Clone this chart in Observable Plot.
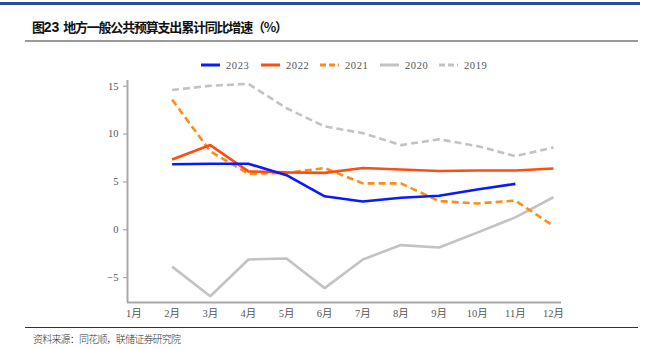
<!DOCTYPE html>
<html>
<head>
<meta charset="utf-8">
<script src="https://cdn.jsdelivr.net/npm/d3@7"></script>
<script src="https://cdn.jsdelivr.net/npm/@observablehq/plot@0.6"></script>
<style>
  html, body { margin: 0; padding: 0; background: #fff; }
  #wrap { position: relative; width: 652px; height: 350px; overflow: hidden; }
  .abs { position: absolute; }
  #topbar { top: 2px; left: 0; width: 640px; height: 3px; background: #2b4c9b; }
  #title { top: 17px; left: 32px; font-family: "Noto Sans CJK SC", sans-serif; font-weight: 700; font-size: 13px; letter-spacing: -1.2px; color: #111; white-space: nowrap; }
  #title .num { font-family: "Liberation Sans", Arial, sans-serif; font-weight: 700; font-size: 14px; letter-spacing: 0; margin-right: 2px; }
  #rule1 { top: 40px; left: 25px; width: 613px; height: 2px; background: #9a9a9a; }
  #legend { top: 58px; left: 0; width: 652px; height: 14px; }
  #chart { top: 72px; left: 0; }
  #rule2 { top: 327px; left: 25px; width: 613px; height: 1px; background: #333; }
  #source { top: 331px; left: 33px; font-family: "Noto Sans CJK SC", sans-serif; font-weight: 300; font-size: 10px; letter-spacing: -0.8px; color: #333; white-space: nowrap; }
  .leg { position: absolute; top: 0; height: 14px; display: flex; align-items: center; font-family: "Liberation Serif", "Times New Roman", serif; font-size: 10.5px; color: #555; letter-spacing: 0.6px; }
  .leg svg { margin-right: 6px; }
</style>
</head>
<body>
<div id="wrap">
  <div id="topbar" class="abs"></div>
  <div id="title" class="abs">图<span class="num">23</span> 地方一般公共预算支出累计同比增速（%）</div>
  <div id="rule1" class="abs"></div>
  <div id="legend" class="abs"></div>
  <div id="chart" class="abs"></div>
  <div id="rule2" class="abs"></div>
  <div id="source" class="abs">资料来源：同花顺，联储证券研究院</div>
</div>
<script>
// ---- data ----
const monthTicks = [1,2,3,4,5,6,7,8,9,10,11,12];
const months = [2,3,4,5,6,7,8,9,10,11,12];
const v2023 = [6.85, 6.9, 6.9, 5.7, 3.5, 2.95, 3.35, 3.55, 4.2, 4.8];
const v2022 = [7.35, 8.85, 6.1, 6.0, 5.95, 6.45, 6.3, 6.15, 6.2, 6.2, 6.4];
const v2021 = [13.6, 8.2, 5.85, 5.95, 6.45, 4.85, 4.85, 3.0, 2.75, 3.05, 0.4];
const v2020 = [-3.85, -6.95, -3.1, -3.0, -6.1, -3.1, -1.6, -1.85, -0.3, 1.3, 3.4];
const v2019 = [14.6, 15.05, 15.25, 12.7, 10.8, 10.1, 8.85, 9.45, 8.75, 7.7, 8.6];
const yTicks = [-5, 0, 5, 10, 15];

const series = [
  {name: "2023", values: v2023, color: "#0a1aff", dash: null},
  {name: "2022", values: v2022, color: "#ff4d0f", dash: null},
  {name: "2021", values: v2021, color: "#ff8c1a", dash: "7,4"},
  {name: "2020", values: v2020, color: "#c3c3c3", dash: null},
  {name: "2019", values: v2019, color: "#c3c3c3", dash: "7,4"}
];

const xDomain = [0.83, 12.21];
const yDomain = [-7.6, 15.6];

const rows = s => s.values.map((v, i) => ({month: months[i], value: v}));
const drawOrder = [...series].reverse();

const labelFont = '"Liberation Serif", "Noto Sans CJK SC", serif';

const chart = Plot.plot({
  width: 652,
  height: 250,
  marginLeft: 127,
  marginRight: 91,
  marginTop: 8,
  marginBottom: 20,
  style: {fontFamily: labelFont, fontSize: "10.5px", color: "#555", background: "transparent"},
  x: {type: "linear", domain: xDomain},
  y: {type: "linear", domain: yDomain},
  marks: [
    Plot.axisY({ticks: yTicks, tickSize: 4, tickPadding: 5, stroke: "#999", fill: "#555", label: null}),
    Plot.axisX({ticks: monthTicks, tickSize: 0, tickPadding: 7, tickFormat: d => d + "月", fill: "#555", label: null}),
    Plot.ruleX([xDomain[0]], {stroke: "#a8a8a8", strokeWidth: 2}),
    Plot.ruleY([yDomain[0]], {stroke: "#a8a8a8", strokeWidth: 2}),
    ...drawOrder.map(s => Plot.line(rows(s), {
      x: "month", y: "value", stroke: s.color, strokeWidth: 2.6,
      strokeDasharray: s.dash || undefined, strokeLinejoin: "miter", strokeLinecap: "butt"
    }))
  ]
});
document.getElementById("chart").appendChild(chart);

// ---- legend ----
const legend = document.getElementById("legend");
const legX = [201, 261, 320, 380, 439];
series.forEach((s, i) => {
  const item = document.createElement("div");
  item.className = "leg";
  item.style.left = legX[i] + "px";
  item.innerHTML = `<svg width="19" height="6"><line x1="0" y1="3" x2="19" y2="3" stroke="${s.color}" stroke-width="3" ${s.dash ? 'stroke-dasharray="6,3"' : ''}/></svg><span>${s.name}</span>`;
  legend.appendChild(item);
});
</script>
</body>
</html>
